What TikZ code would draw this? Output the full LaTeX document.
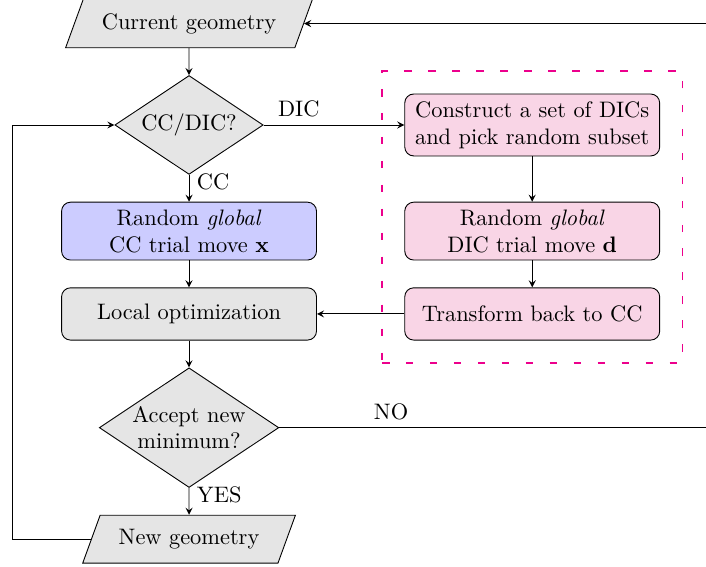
\documentclass[tikz,border=0pt]{standalone}
\usepackage{amsmath}
\usetikzlibrary{arrows,shapes.geometric,positioning,fit}
\definecolor{dicpink}{RGB}{249,213,230}
\definecolor{dicmagenta}{RGB}{236,0,140}

\begin{document}
\begin{tikzpicture}[->,>=stealth,auto,node distance=12pt,
  io/.style={trapezium,trapezium left angle=70,trapezium right angle=110,
    draw,fill=gray!20,inner xsep=8.3pt,inner ysep=6.25pt},
  decision/.style={diamond,aspect=1.5,draw,fill=gray!20,inner sep=0pt,
    text width=1.8cm,align=center},
  block/.style={rectangle,rounded corners,draw,fill=gray!20,
    minimum width=4cm,minimum height=0.82cm,align=center},
  ccblock/.style={block,fill=blue!20},
  dicblock/.style={block,fill=dicpink}]
  \useasboundingbox (-84.4pt,55.8pt) rectangle (230.8pt,-197.3pt);

  \node[decision]  (dec1)                    {CC/DIC?};
  \node[io]        (cur)    [above=of dec1]  {Current geometry};
  \node[ccblock]   (ccmove) [below=of dec1]  {Random \textit{global}\\CC trial move $\mathbf{x}$};
  \node[block]     (local)  [below=of ccmove]{Local optimization};
  \node[decision]  (dec2)   [below=of local] {Accept new minimum?};
  \node[io]        (newg)   [below=of dec2]  {New geometry};

  \node[dicblock]  (dicmove) [right=39pt of ccmove] {Random \textit{global}\\DIC trial move $\mathbf{d}$};
  \node[dicblock]  (dicset)  at (dicmove |- dec1)   {Construct a set of DICs\\and pick random subset};
  \node[dicblock]  (back)    [right=39pt of local]  {Transform back to CC};
  \node[draw=dicmagenta,thick,dash pattern=on 3.4pt off 7.3pt,inner sep=10pt,
    fit=(dicset)(back)] (dicgroup) {};

  \coordinate (loopx) at (-79pt,0);
  \coordinate (nox)   at (240pt,0);

  \path (cur)     edge                    (dec1)
        (dec1)    edge node[near start] {DIC} (dicset)
                  edge node[near start] {CC}  (ccmove)
        (ccmove)  edge                    (local)
        (local)   edge                    (dec2)
        (dec2)    edge node[near start] {YES} (newg)
        (dicset)  edge                    (dicmove)
        (dicmove) edge                    (back)
        (back)    edge                    (local);

  \draw (dec2.east) -- node[near start] {NO} (nox |- dec2) |- (cur.east);
  \draw (newg.west) -| (loopx) -- (dec1.west);
\end{tikzpicture}
\end{document}
